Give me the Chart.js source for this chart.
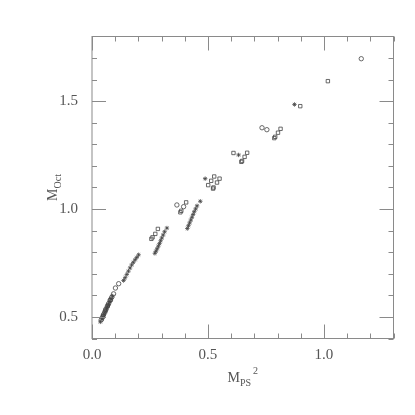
<!DOCTYPE html>
<html>
<head>
<meta charset="utf-8">
<script src="https://cdn.jsdelivr.net/npm/chart.js@4/dist/chart.umd.min.js"></script>
<style>
  html, body { margin: 0; padding: 0; background: #fff; }
  #wrap { width: 415px; height: 415px; }
</style>
</head>
<body>
<div id="wrap"><canvas id="c" width="415" height="415"></canvas></div>
<script>
'use strict';

/* ── Data (x = M_PS^2, y = M_Oct) ─────────────────────────────────────────── */
const circlePts = [
  [0.040, 0.487], [0.045, 0.499], [0.050, 0.511], [0.055, 0.523], [0.060, 0.536],
  [0.066, 0.549], [0.072, 0.562], [0.078, 0.576], [0.085, 0.591], [0.093, 0.607],
  [0.101, 0.634], [0.115, 0.654],
  [0.366, 1.019], [0.395, 1.011],
  [0.733, 1.377], [0.754, 1.368],
  [1.161, 1.697],
];

const squarePts = [
  [0.048, 0.505], [0.058, 0.530], [0.068, 0.553], [0.080, 0.580],
  [0.284, 0.908], [0.273, 0.885], [0.261, 0.869], [0.256, 0.862],
  [0.406, 1.031], [0.385, 0.992], [0.381, 0.985],
  [0.527, 1.151], [0.550, 1.141], [0.514, 1.131], [0.539, 1.123],
  [0.501, 1.111], [0.524, 1.100], [0.522, 1.095],
  [0.610, 1.260], [0.669, 1.261], [0.658, 1.242], [0.647, 1.223], [0.644, 1.219],
  [0.813, 1.372], [0.802, 1.354], [0.790, 1.335], [0.786, 1.329],
  [0.898, 1.477],
  [1.017, 1.593],
];

const starPts = [
  [0.036, 0.477], [0.043, 0.490], [0.047, 0.500], [0.052, 0.512], [0.057, 0.524],
  [0.062, 0.536], [0.067, 0.548], [0.072, 0.560], [0.077, 0.572], [0.082, 0.584],
  [0.088, 0.597],
  [0.136, 0.669], [0.143, 0.682], [0.150, 0.697], [0.157, 0.712], [0.164, 0.727],
  [0.171, 0.741], [0.178, 0.753], [0.186, 0.765], [0.193, 0.776], [0.201, 0.788],
  [0.323, 0.912], [0.313, 0.895], [0.307, 0.880], [0.301, 0.866], [0.296, 0.853],
  [0.291, 0.840], [0.286, 0.828], [0.281, 0.816], [0.276, 0.805], [0.271, 0.795],
  [0.467, 1.036], [0.453, 1.015], [0.447, 1.001], [0.441, 0.988], [0.436, 0.975],
  [0.431, 0.962], [0.426, 0.949], [0.421, 0.936], [0.416, 0.923], [0.411, 0.910],
  [0.488, 1.141],
  [0.632, 1.251],
  [0.873, 1.485],
];

/* ── Axes ─────────────────────────────────────────────────────────────────── */
const xRange      = [0, 1.3];
const yRange      = [0.4, 1.8];
const xMajorTicks = [0.0, 0.5, 1.0];
const xTickLabels = ['0.0', '0.5', '1.0'];
const yMajorTicks = [0.5, 1.0, 1.5];
const yTickLabels = ['0.5', '1.0', '1.5'];
const minorStep   = 0.1;

const INK   = '#555';
const FRAME = '#8a8a8a';
const FONT  = '"Liberation Serif", "DejaVu Serif", serif';

const toXY = pts => pts.map(p => ({ x: p[0], y: p[1] }));

/* ── Frame, inward ticks, labels ─────────────────────────────────────────── */
const framePlugin = {
  id: 'frame',
  afterDraw(chart) {
    const { ctx, chartArea: a, scales: { x, y } } = chart;
    ctx.save();
    ctx.strokeStyle = FRAME;
    ctx.lineWidth = 1;
    ctx.strokeRect(a.left, a.top, a.right - a.left, a.bottom - a.top);

    const isMajor = (v, majors) => majors.some(m => Math.abs(m - v) < 1e-6);
    ctx.beginPath();
    for (let i = 0; ; i++) {
      const v = xRange[0] + i * minorStep;
      if (v > xRange[1] + 1e-6) break;
      const px = Math.round(x.getPixelForValue(v)) + 0.5;
      const len = isMajor(v, xMajorTicks) ? 14 : 5;
      ctx.moveTo(px, a.bottom); ctx.lineTo(px, a.bottom - len);
      ctx.moveTo(px, a.top);    ctx.lineTo(px, a.top + len);
    }
    for (let i = 0; ; i++) {
      const v = yRange[0] + i * minorStep;
      if (v > yRange[1] + 1e-6) break;
      const py = Math.round(y.getPixelForValue(v)) + 0.5;
      const len = isMajor(v, yMajorTicks) ? 14 : 5;
      ctx.moveTo(a.left, py);  ctx.lineTo(a.left + len, py);
      ctx.moveTo(a.right, py); ctx.lineTo(a.right - len, py);
    }
    ctx.stroke();

    // tick labels
    ctx.fillStyle = INK;
    ctx.font = `15px ${FONT}`;
    ctx.textBaseline = 'middle';
    ctx.textAlign = 'center';
    xMajorTicks.forEach((v, i) => ctx.fillText(xTickLabels[i], x.getPixelForValue(v), a.bottom + 17));
    ctx.textAlign = 'right';
    yMajorTicks.forEach((v, i) => ctx.fillText(yTickLabels[i], a.left - 14, y.getPixelForValue(v)));

    // x title: M_PS^2
    const cx = (a.left + a.right) / 2;
    ctx.textAlign = 'left';
    ctx.textBaseline = 'alphabetic';
    ctx.font = `14px ${FONT}`;
    const wM = ctx.measureText('M').width;
    ctx.font = `10px ${FONT}`;
    const wS = ctx.measureText('PS').width;
    const wSup = ctx.measureText('2').width;
    let tx = cx - (wM + wS + 2 + wSup) / 2;
    const base = 382;
    ctx.font = `14px ${FONT}`;
    ctx.fillText('M', tx, base);
    ctx.font = `10px ${FONT}`;
    ctx.fillText('PS', tx + wM, base + 4);
    ctx.fillText('2', tx + wM + wS + 2, base - 8);

    // y title: M_Oct (rotated)
    ctx.translate(57, (a.top + a.bottom) / 2);
    ctx.rotate(-Math.PI / 2);
    ctx.font = `14px ${FONT}`;
    const yM = ctx.measureText('M').width;
    ctx.font = `10px ${FONT}`;
    const yO = ctx.measureText('Oct').width;
    const ty = -(yM + yO) / 2;
    ctx.font = `14px ${FONT}`;
    ctx.fillText('M', ty, 0);
    ctx.font = `10px ${FONT}`;
    ctx.fillText('Oct', ty + yM, 4);
    ctx.restore();
  },
};

const marker = (style, r) => ({
  pointStyle: style,
  pointRadius: r,
  pointHoverRadius: r,
  pointBorderWidth: 0.8,
  pointBorderColor: '#444',
  pointBackgroundColor: 'rgba(0,0,0,0)',
  showLine: false,
});

new Chart(document.getElementById('c').getContext('2d'), {
  type: 'scatter',
  data: {
    datasets: [
      { label: 'circles', data: toXY(circlePts), ...marker('circle', 2.2) },
      { label: 'squares', data: toXY(squarePts), ...marker('rect', 2.4) },
      { label: 'stars',   data: toXY(starPts),   ...marker('star', 2.2) },
    ],
  },
  options: {
    responsive: false,
    animation: false,
    layout: { padding: { left: 92, right: 21.5, top: 36.5, bottom: 76.5 } },
    plugins: { legend: { display: false }, tooltip: { enabled: false } },
    scales: {
      x: { type: 'linear', min: xRange[0], max: xRange[1], display: false },
      y: { type: 'linear', min: yRange[0], max: yRange[1], display: false },
    },
  },
  plugins: [framePlugin],
});
</script>
</body>
</html>
